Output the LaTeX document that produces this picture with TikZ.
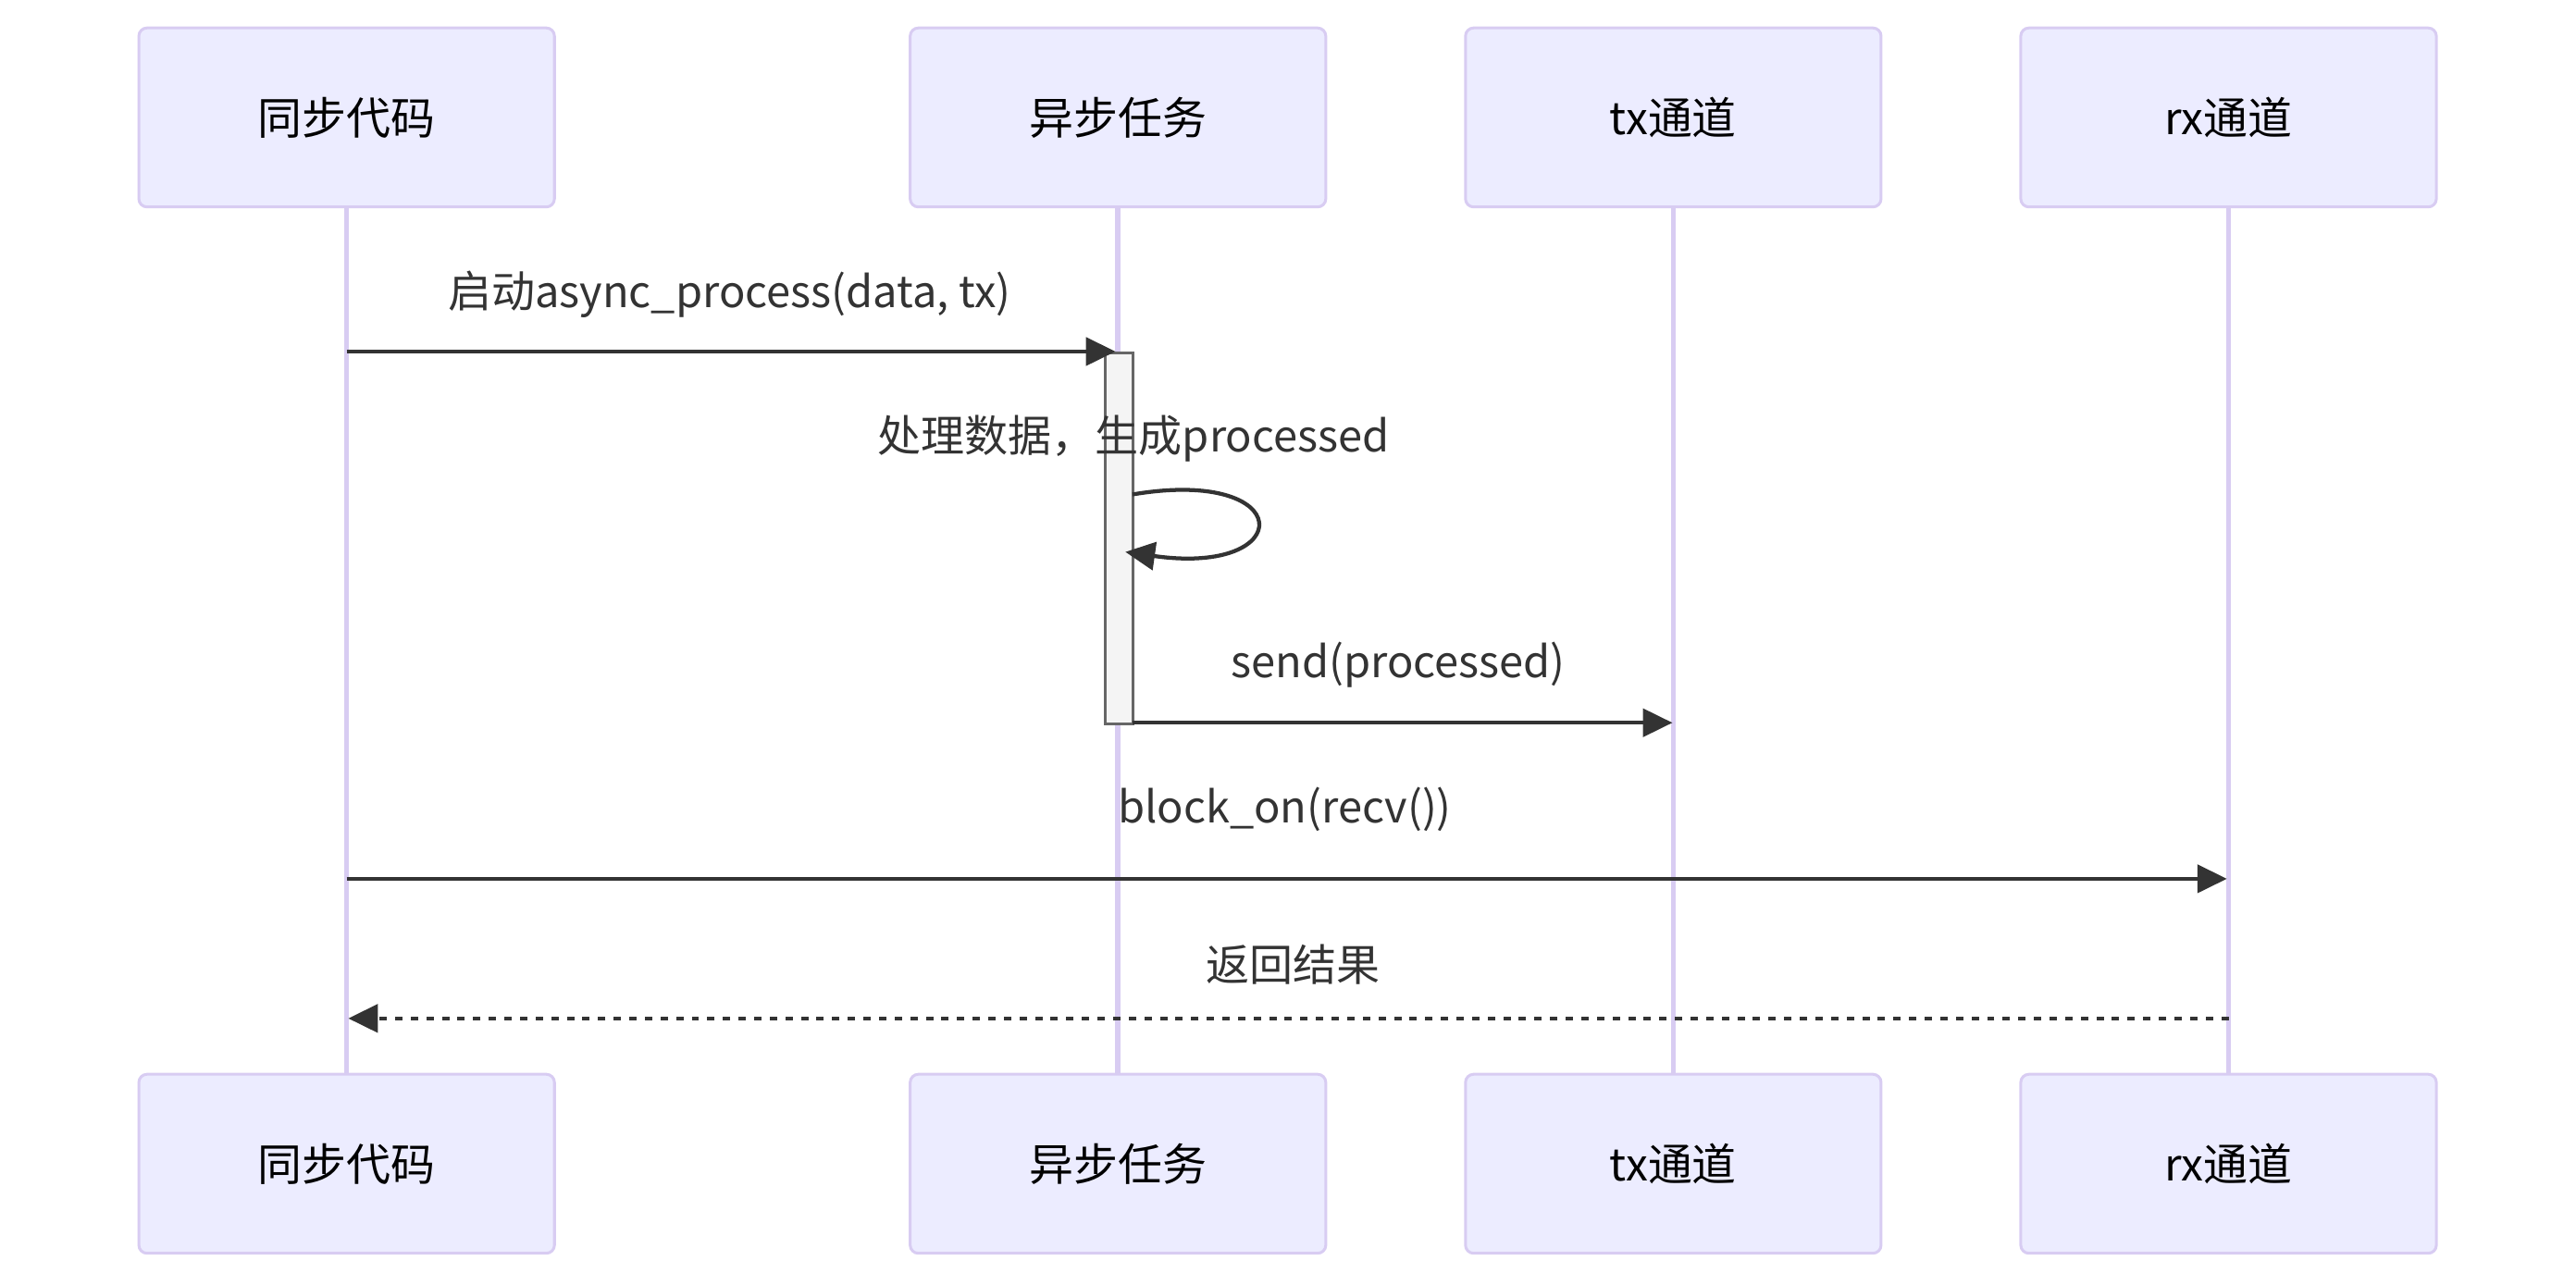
\documentclass[tikz,border=0pt]{standalone}
\usepackage{fontspec}
\setmainfont{Noto Sans CJK SC}
\usetikzlibrary{arrows.meta,calc}
\definecolor{actfill}{HTML}{ECECFF}
\definecolor{actline}{HTML}{D8CCF2}
\definecolor{msg}{HTML}{333333}
\definecolor{actbg}{HTML}{F4F4F4}
\definecolor{actgray}{HTML}{666666}
\begin{document}
\begin{tikzpicture}[x=1pt,y=-1pt,
 actor/.style={draw=actline,line width=1.7pt,fill=actfill,rounded corners=5pt,minimum width=253pt,minimum height=109pt,inner sep=0pt,font=\fontsize{27}{30}\selectfont,text=black},
 lifeline/.style={draw=actline,line width=3.2pt},
 msgline/.style={draw=msg,line width=2.4pt,-{Triangle[length=18pt,width=17pt]}},
 lbl/.style={font=\fontsize{26.5}{30}\selectfont,text=msg,inner sep=0pt}]
\useasboundingbox (0,0) rectangle (1568,782.3);
% actors top
\node[actor] (a1) at (211,71.5) {同步代码};
\node[actor] (a2) at (680.5,71.5) {异步任务};
\node[actor] (a3) at (1018.5,71.5) {tx通道};
\node[actor] (a4) at (1356.5,71.5) {rx通道};
% actors bottom
\node[actor] (b1) at (211,708.5) {同步代码};
\node[actor] (b2) at (680.5,708.5) {异步任务};
\node[actor] (b3) at (1018.5,708.5) {tx通道};
\node[actor] (b4) at (1356.5,708.5) {rx通道};
% lifelines
\draw[lifeline] (a1.south) -- (b1.north);
\draw[lifeline] (a2.south) -- (b2.north);
\draw[lifeline] (a3.south) -- (b3.north);
\draw[lifeline] (a4.south) -- (b4.north);
% activation
\node[draw=actgray,fill=actbg,line width=1.7pt,minimum width=16.8pt,minimum height=226pt,inner sep=0pt,anchor=north] (act) at (681,214) {};
% coordinates
\coordinate (m1s) at (211,214);
\coordinate (m1e) at (679,214);
\coordinate (lps) at (689.4,301);
\coordinate (lpe) at (685,336);
\coordinate (m3s) at (689.4,440);
\coordinate (m3e) at (1018,440);
\coordinate (m4s) at (211,535);
\coordinate (m4e) at (1355.5,535);
\coordinate (m5s) at (1356.5,620);
\coordinate (m5e) at (212,620);
% messages
\node[lbl] (l1) at (444,179) {启动async\_process(data, tx)};
\draw[msgline] (m1s) -- (m1e);
\node[lbl] (l2) at (690,267) {处理数据，生成processed};
\draw[msgline] (lps) .. controls (790,284) and (790,351) .. (lpe);
\node[lbl] (l3) at (851,405) {send(processed)};
\draw[msgline] (m3s) -- (m3e);
\node[lbl] (l4) at (782,493) {block\_on(recv())};
\draw[msgline] (m4s) -- (m4e);
\node[lbl] (l5) at (787,587) {返回结果};
\draw[msgline,dash pattern=on 4.5pt off 5pt] (m5s) -- (m5e);
\end{tikzpicture}
\end{document}
